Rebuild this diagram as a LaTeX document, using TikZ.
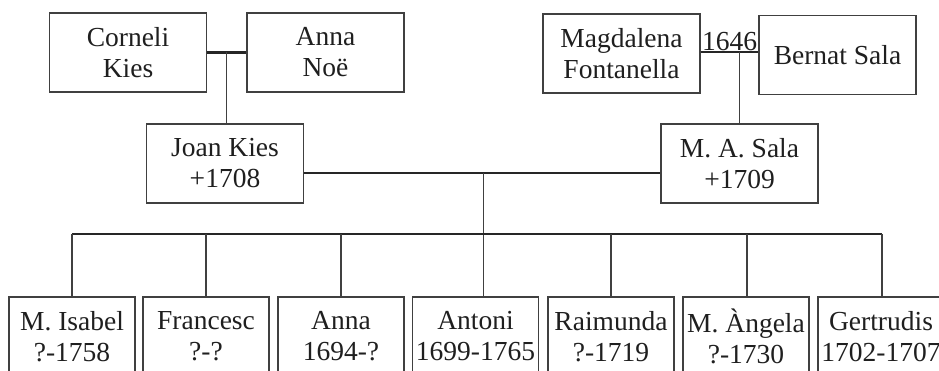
\documentclass[tikz,border=0pt]{standalone}
\usepackage{fontspec}
\setmainfont{Liberation Serif}
\usetikzlibrary{calc}
\begin{document}
\begin{tikzpicture}[x=1pt,y=-1pt,
  person/.style={draw=black!75, line width=1.2pt, inner sep=0pt, align=center,
    minimum height=79pt, text=black!88,
    font=\fontsize{27.5}{31}\selectfont},
  adult/.style={person, minimum width=157pt},
  child/.style={person, minimum width=126pt},
  thin/.style={draw=black!75, line width=1.3pt},
  thick/.style={draw=black!85, line width=2.8pt},
  lbl/.style={font=\fontsize{27.5}{31}\selectfont, text=black!88, inner sep=1pt}]
\useasboundingbox (0,0) rectangle (939,371);
\fill[white] (0,0) rectangle (939,371);
% parents' generation
\node[adult] (corneli) at (128,52.5) {Corneli\\Kies};
\node[adult] (annanoe) at (325.5,52.5) {Anna\\Noë};
\node[adult] (magda) at (621.5,53.5) {Magdalena\\Fontanella};
\node[adult] (bernat) at (837.5,55) {Bernat Sala};
\node[adult] (joan) at (225,163.5) {Joan Kies\\+1708};
\node[adult] (masala) at (739.5,163.5) {M. A. Sala\\+1709};
% children
\node[child] (isabel) at (72,336.5) {M. Isabel\\?-1758};
\node[child] (francesc) at (206,336.5) {Francesc\\?-?};
\node[child] (anna) at (341,336.5) {Anna\\1694-?};
\node[child] (antoni) at (475.5,336.5) {Antoni\\1699-1765};
\node[child] (raimunda) at (611,336.5) {Raimunda\\?-1719};
\node[child] (angela) at (746,336.5) {M. Àngela\\?-1730};
\node[child] (gertrudis) at (881,336.5) {Gertrudis\\1702-1707};
% couple Corneli - Anna
\draw[thick] (corneli.east) -- (annanoe.west);
\coordinate (m1) at ($(corneli.east)!0.5!(annanoe.west)$);
\draw[thin] (m1) -- (m1 |- joan.north);
% couple Magdalena - Bernat
\coordinate (m2) at (729.5,52);
\draw[thick] (magda.east |- m2) -- (bernat.west |- m2);
\node[lbl, anchor=south] (year) at (m2) {1646};
\draw[thin] (masala.north) -- (masala.north |- m2);
% couple Joan - M. A. Sala
\coordinate (cl) at (483.5,173);
\draw[thick] (joan.east |- cl) -- (masala.west |- cl);
\draw[thin] (cl) -- (cl |- antoni.north);
% siblings bar
\coordinate (sb) at (483.5,234);
\draw[thick] (isabel.north |- sb) -- (882,234);
\foreach \c in {isabel,francesc,anna,raimunda}
  \draw[thin] (\c.north) -- (\c.north |- sb);
\coordinate (atop) at ($(angela.north)+(1,0)$);
\draw[thin] (atop) -- (atop |- sb);
\coordinate (gtop) at ($(gertrudis.north)+(1,0)$);
\draw[thin] (gtop) -- (gtop |- sb);
\end{tikzpicture}
\end{document}
